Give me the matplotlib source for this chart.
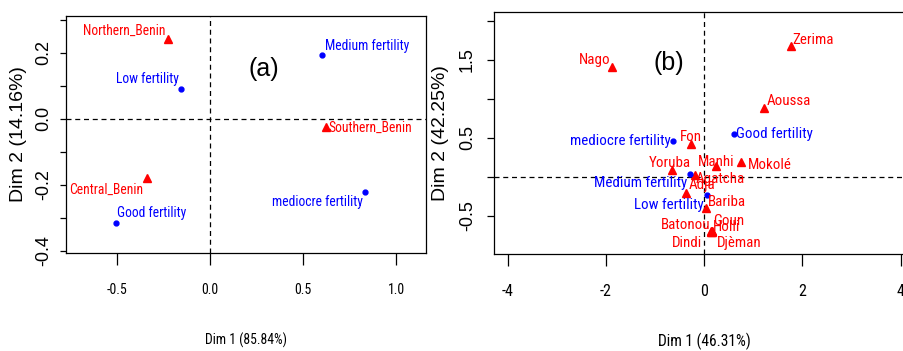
import matplotlib
matplotlib.use("Agg")
import matplotlib.pyplot as plt
from matplotlib import font_manager

# Condensed font for horizontal text (reference looks horizontally squeezed)
names = set(f.name for f in font_manager.fontManager.ttflist)
narrow = "Roboto Condensed" if "Roboto Condensed" in names else "Liberation Sans"
regular = "Liberation Sans"

# ---- data, panel (a)
a_rows = ["Northern_Benin", "Southern_Benin", "Central_Benin"]
a_rows_x = [-0.229, 0.622, -0.342]
a_rows_y = [0.241, -0.024, -0.181]
a_cols = ["Low fertility", "Medium fertility", "Good fertility", "mediocre fertility"]
a_cols_x = [-0.158, 0.602, -0.509, 0.830]
a_cols_y = [0.091, 0.193, -0.315, -0.222]

# ---- data, panel (b)
b_rows = ["Zerima", "Nago", "Aoussa", "Fon", "Mokolé", "Manhi", "Yoruba", "Agatcha",
          "Adja", "Bariba", "Goun", "Holli", "Batonou", "Dindi", "Djèman"]
b_rows_x = [1.76, -1.87, 1.22, -0.27, 0.75, 0.24, -0.66, -0.19,
            -0.37, 0.04, 0.16, 0.15, 0.14, 0.14, 0.16]
b_rows_y = [1.68, 1.41, 0.88, 0.42, 0.19, 0.135, 0.085, 0.02,
            -0.21, -0.40, -0.69, -0.70, -0.70, -0.71, -0.71]
b_cols = ["Good fertility", "mediocre fertility", "Medium fertility", "Low fertility"]
b_cols_x = [0.61, -0.64, -0.29, 0.055]
b_cols_y = [0.545, 0.46, 0.04, -0.235]

# label placement (offset in pixels, horizontal alignment)
a_rows_pos = [(-2, 8, "right"), (2, -1, "left"), (-3, -11, "right")]
a_cols_pos = [(-2, 10, "right"), (3, 9, "left"), (1, 10, "left"), (-2, -10, "right")]
b_rows_pos = [(2, 6, "left"), (-2, 7, "right"), (2, 7, "left"), (0, 7, "center"),
              (7, -3, "left"), (0, 4, "center"), (-2, 7, "center"), (1, -4, "left"),
              (3, 8, "left"), (2, 6, "left"), (1, 10, "left"), (1, 4, "left"),
              (-1, 6, "right"), (-9, -11, "right"), (5, -11, "left")]
b_cols_pos = [(2, 0, "left"), (-2, 0, "right"), (-3, -9, "right"), (-3, -10, "right")]

RED = "#FF0000"
BLUE = "#0000FF"

fig = plt.figure(figsize=(9.04, 3.51), dpi=100)
ax1 = fig.add_axes([65.7 / 904, (351 - 253.3) / 351, 360.3 / 904, 237.6 / 351])
ax2 = fig.add_axes([494 / 904, (351 - 254) / 351, 420.5 / 904, 241.7 / 351])


def draw_panel(ax, rx, ry, rnames, rpos, cx, cy, cnames, cpos, fs):
    ax.axhline(0, color="black", lw=0.9, ls=(0, (4, 3)))
    ax.axvline(0, color="black", lw=0.9, ls=(0, (4, 3)))
    ax.plot(rx, ry, ls="none", marker="^", ms=6, color=RED, mec=RED)
    ax.plot(cx, cy, ls="none", marker="o", ms=3.5, color=BLUE, mec=BLUE)
    for x, y, t, (dx, dy, ha) in zip(rx, ry, rnames, rpos):
        ax.annotate(t, (x, y), xytext=(dx, dy), textcoords="offset pixels",
                    ha=ha, va="center", color=RED, fontsize=fs, family=narrow)
    for x, y, t, (dx, dy, ha) in zip(cx, cy, cnames, cpos):
        ax.annotate(t, (x, y), xytext=(dx, dy), textcoords="offset pixels",
                    ha=ha, va="center", color=BLUE, fontsize=fs, family=narrow)
    for s in ax.spines.values():
        s.set_linewidth(0.9)


draw_panel(ax1, a_rows_x, a_rows_y, a_rows, a_rows_pos,
           a_cols_x, a_cols_y, a_cols, a_cols_pos, 9.8)
draw_panel(ax2, b_rows_x, b_rows_y, b_rows, b_rows_pos,
           b_cols_x, b_cols_y, b_cols, b_cols_pos, 10.8)

# panel (a) axes
ax1.set_xlim(-0.777, 1.16)
ax1.set_ylim(-0.408, 0.312)
ax1.set_xticks([-0.5, 0.0, 0.5, 1.0])
ax1.set_xticklabels(["-0.5", "0.0", "0.5", "1.0"], family=narrow, fontsize=10)
ax1.set_yticks([0.3, 0.2, 0.1, 0.0, -0.1, -0.2, -0.3, -0.4])
ax1.set_yticklabels(["", "0.2", "", "0.0", "", "-0.2", "", "-0.4"],
                    family=regular, fontsize=13, rotation=90, va="center")
ax1.tick_params(axis="x", length=8.5, width=0.9, pad=13)
ax1.tick_params(axis="y", length=4.5, width=0.9, pad=5.5)
ax1.set_xlabel("Dim 1 (85.84%)", family=narrow, fontsize=9.8)
ax1.set_ylabel("Dim 2 (14.16%)", family=regular, fontsize=14)
ax1.xaxis.set_label_coords(0.5, -0.365)
ax1.xaxis.label.set_va("center")
ax1.yaxis.set_label_coords(-0.131, 0.5)
ax1.yaxis.label.set_va("center")
ax1.text(0.289, 0.151, "(a)", family=regular, fontsize=18, ha="center", va="center")

# panel (b) axes
ax2.set_xlim(-4.28, 4.28)
ax2.set_ylim(-0.99, 2.11)
ax2.set_xticks([-4, -2, 0, 2, 4])
ax2.set_xticklabels(["-4", "-2", "0", "2", "4"], family=narrow, fontsize=11.5)
ax2.set_yticks([2.0, 1.5, 1.0, 0.5, 0.0, -0.5])
ax2.set_yticklabels(["", "1.5", "", "0.5", "", "-0.5"],
                    family=regular, fontsize=13, rotation=90, va="center")
ax2.tick_params(axis="x", length=8.5, width=0.9, pad=13)
ax2.tick_params(axis="y", length=5, width=0.9, pad=8)
ax2.set_xlabel("Dim 1 (46.31%)", family=narrow, fontsize=11.2)
ax2.set_ylabel("Dim 2 (42.25%)", family=regular, fontsize=14)
ax2.xaxis.set_label_coords(0.5, -0.363)
ax2.xaxis.label.set_va("center")
ax2.yaxis.set_label_coords(-0.128, 0.5)
ax2.yaxis.label.set_va("center")
ax2.text(-0.725, 1.46, "(b)", family=regular, fontsize=18, ha="center", va="center")

fig.savefig("out.png", dpi=100)
